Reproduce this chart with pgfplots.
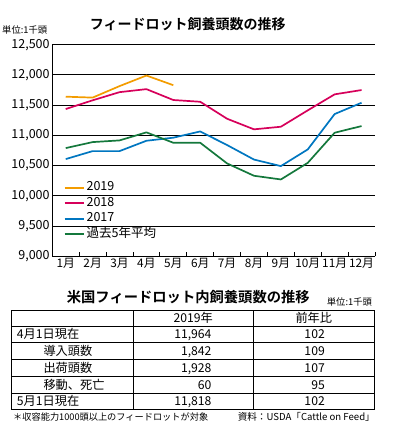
\documentclass[border=0pt]{standalone}
\usepackage{fontspec}
\setmainfont{Noto Sans CJK JP}[BoldFont={Noto Sans CJK JP Bold}]
\usepackage{pgfplots}
\pgfplotsset{compat=1.18}
\definecolor{c19}{RGB}{243,156,0}
\definecolor{c18}{RGB}{214,0,90}
\definecolor{c17}{RGB}{0,118,192}
\definecolor{cavg}{RGB}{20,120,60}
\begin{document}
\begin{tikzpicture}[x=1pt,y=1pt]
\path[use as bounding box] (0,0) rectangle (398,433);
% chart title
\node[font=\bfseries\fontsize{14}{14}\selectfont] at (187.7,409) {フィードロット飼養頭数の推移};
\node[anchor=west,inner sep=0pt,font=\fontsize{9.3}{10}\selectfont] at (2,403) {単位:1千頭};
\begin{axis}[
  at={(52.3pt,176.7pt)}, anchor=south west,
  scale only axis, width=322.7pt, height=211.6pt,
  xmin=0.5, xmax=12.5, ymin=9000, ymax=12500,
  axis x line*=bottom, axis y line*=left,
  axis line style={line width=0.9pt},
  xtick={1,...,12},
  xticklabels={1月,2月,3月,4月,5月,6月,7月,8月,9月,10月,11月,12月},
  minor xtick={1.5,2.5,...,12.5},
  tick align=inside, major tick length=0pt, minor tick length=4pt,
  minor tick style={line width=0.9pt, black},
  ytick={9000,9500,...,12500},
  ymajorgrids, grid style={black, line width=0.9pt},
  scaled y ticks=false,
  /pgf/number format/1000 sep={,},
  /pgf/number format/assume math mode=true,
  yticklabel style={font=\fontsize{12.5}{13}\selectfont, inner sep=2.5pt},
  xticklabel style={font=\fontsize{11.8}{12}\selectfont, inner sep=2pt},
  legend style={at={(0.035,0.36)}, anchor=north west, draw=none, fill=none,
    inner sep=0pt, row sep=0.5pt, font=\fontsize{12.5}{13}\selectfont,
    nodes={inner sep=1.5pt, text height=9pt, text depth=3pt}},
  legend cell align=left,
  legend image code/.code={\draw[#1] (0pt,0pt) -- (19.6pt,0pt);},
  every axis plot/.append style={line width=1.7pt, line join=round, mark=none},
]
\addplot[c19] coordinates {(1,11640) (2,11625) (3,11815) (4,11990) (5,11830)};
\addlegendentry{2019}
\addplot[c18] coordinates {(1,11436) (2,11580) (3,11715) (4,11765) (5,11585) (6,11556) (7,11275) (8,11100) (9,11143) (10,11414) (11,11679) (12,11750)};
\addlegendentry{2018}
\addplot[c17] coordinates {(1,10608) (2,10740) (3,10740) (4,10911) (5,10962) (6,11065) (7,10840) (8,10600) (9,10492) (10,10768) (11,11353) (12,11540)};
\addlegendentry{2017}
\addplot[cavg] coordinates {(1,10790) (2,10889) (3,10917) (4,11050) (5,10878) (6,10878) (7,10536) (8,10332) (9,10271) (10,10546) (11,11044) (12,11154)};
\addlegendentry{過去5年平均}
\end{axis}
% table title
\node[font=\bfseries\fontsize{14.3}{15}\selectfont] at (188.3,136.3) {米国フィードロット内飼養頭数の推移};
\node[anchor=west,inner sep=0pt,font=\fontsize{9.3}{10}\selectfont] at (326.7,131.3) {単位:1千頭};
% table grid
\draw[line width=0.8pt] (11.7,23.7) rectangle (374.3,123);
\foreach \yy in {107,90.3,73.7,56.7,40} \draw[line width=0.8pt] (11.7,\yy) -- (374.3,\yy);
\draw[line width=0.8pt] (133.3,23.7) -- (133.3,123);
\draw[line width=0.8pt] (253.3,23.7) -- (253.3,123);
\begin{scope}[every node/.style={inner sep=0pt, font=\fontsize{12.2}{13}\selectfont}]
\node at (193.3,115) {2019年};
\node at (313.8,115) {前年比};
\node[anchor=base west] at (16.7,94.3) {4月1日現在};
\node[anchor=base west] at (43.3,77.6) {導入頭数};
\node[anchor=base west] at (43.3,60.8) {出荷頭数};
\node[anchor=base west] at (43.3,43.9) {移動、死亡};
\node[anchor=base west] at (16.7,27.4) {5月1日現在};
\node[anchor=base east] at (211.7,94.3) {11,964};
\node[anchor=base east] at (211.7,77.6) {1,842};
\node[anchor=base east] at (211.7,60.8) {1,928};
\node[anchor=base east] at (211.7,43.9) {60};
\node[anchor=base east] at (211.7,27.4) {11,818};
\node[anchor=base east] at (325,94.3) {102};
\node[anchor=base east] at (325,77.6) {109};
\node[anchor=base east] at (325,60.8) {107};
\node[anchor=base east] at (325,43.9) {95};
\node[anchor=base east] at (325,27.4) {102};
\end{scope}
% footer
\node[anchor=west,inner sep=0pt,font=\fontsize{9.2}{9}\selectfont] at (13,16.3) {＊収容能力1000頭以上のフィードロットが対象};
\node[anchor=east,inner sep=0pt,font=\fontsize{9.6}{9}\selectfont] at (375,16.3) {資料：USDA「Cattle on Feed」};
\end{tikzpicture}
\end{document}
